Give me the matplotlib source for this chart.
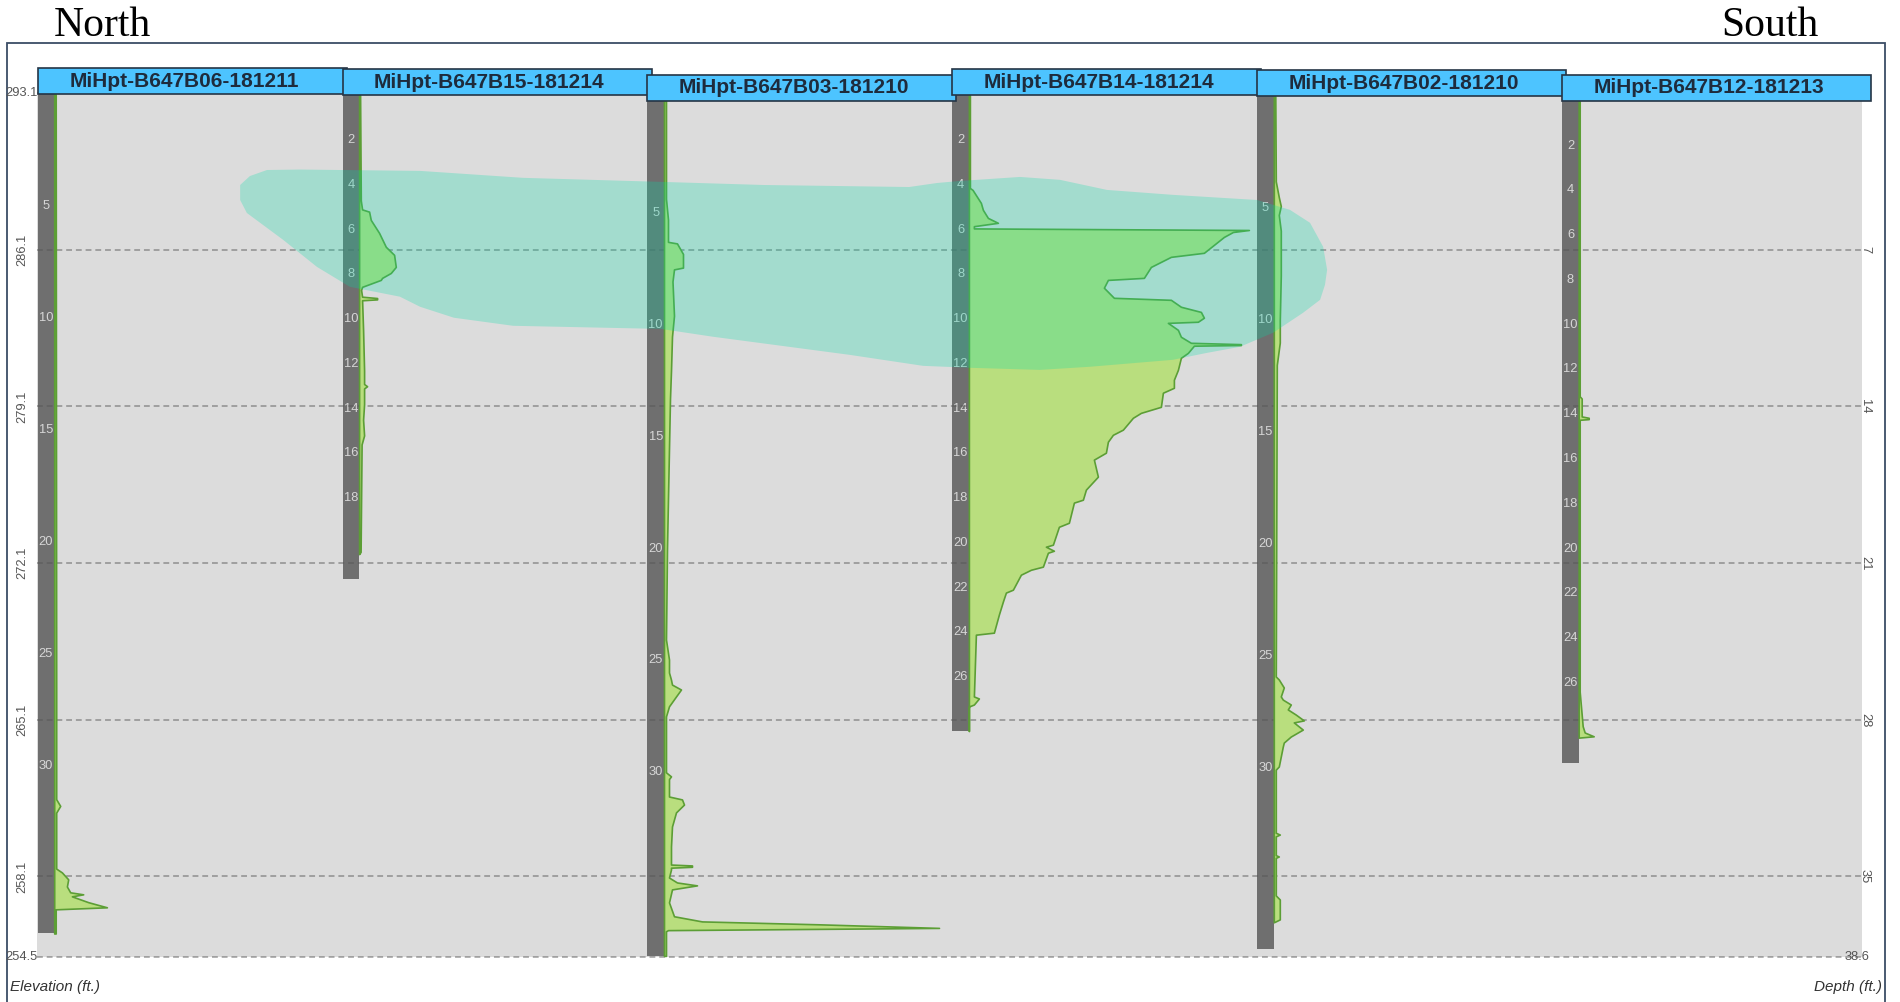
import matplotlib.pyplot as plt
from matplotlib import font_manager
from matplotlib.patches import Rectangle
import numpy as np

# fonts: narrow sans for the log labels if present, serif for the North/South caption
_names = {f.name for f in font_manager.fontManager.ttflist}
HAS_NARROW = 'Liberation Sans Narrow' in _names
NARROW = 'Liberation Sans Narrow' if HAS_NARROW else 'Liberation Sans'
SQUEEZE = 1.0 if HAS_NARROW else 0.88
HDR_FS = 17 if HAS_NARROW else 15
SERIF = 'Liberation Serif'

# borings, north to south
borings = ['MiHpt-B647B06-181211', 'MiHpt-B647B15-181214', 'MiHpt-B647B03-181210',
           'MiHpt-B647B14-181214', 'MiHpt-B647B02-181210', 'MiHpt-B647B12-181213']
top_elev = [293.05, 293.0, 292.75, 293.0, 292.95, 292.75]     # ground surface (ft)
total_depth = [37.5, 21.6, 38.2, 28.4, 38.1, 29.6]            # boring depth (ft)
depth_ticks = [
    [5, 10, 15, 20, 25, 30],
    [2, 4, 6, 8, 10, 12, 14, 16, 18],
    [5, 10, 15, 20, 25, 30],
    [2, 4, 6, 8, 10, 12, 14, 16, 18, 20, 22, 24, 26],
    [5, 10, 15, 20, 25, 30],
    [2, 4, 6, 8, 10, 12, 14, 16, 18, 20, 22, 24, 26],
]

# HPT logs: depth below ground (ft) and response (display units, 305 = one column)
b06_depth = [0, 26.5, 31.5, 31.8, 32.1, 34.6, 34.77, 35.08, 35.4, 35.66, 35.75, 35.84,
             36.1, 36.33, 36.42, 37.5]
b06_hpt = [1.5, 2, 2, 6, 2, 2, 7.7, 14, 12.7, 16, 29, 17.7, 34, 52.7, 1.5, 1.5]

b15_depth = [0, 4.7, 5.1, 5.2, 5.57, 6.15, 6.77, 7.13, 7.67, 7.94, 8.16, 8.25, 8.56, 8.7,
             9.0, 9.06, 9.12, 9.16, 10.5, 12.3, 12.9, 13.0, 13.1, 13.8, 14.5, 15.2, 15.6,
             18.0, 20.4, 20.5]
b15_hpt = [1, 1.7, 3, 10, 11.7, 20, 26.7, 35, 36.7, 31.7, 23, 21.7, 3, 2, 3, 18, 18, 3,
           4, 5, 5, 8, 5, 5, 4, 5, 2.5, 2, 1.5, 0]

b03_depth = [0, 4.38, 5.3, 6.3, 6.37, 6.84, 7.45, 7.53, 8.07, 9.6, 10.53, 12.06, 13.3,
             20.0, 24.07, 24.96, 25.54, 25.86, 26.08, 26.3, 26.61, 27.05, 27.5, 30.0,
             30.18, 30.3, 31.08, 31.21, 31.44, 31.79, 32.42, 33.31, 33.9, 34.12, 34.16,
             34.22, 34.26, 34.34, 34.7, 34.92, 35.05, 35.23, 35.81, 36.43, 36.66, 36.79,
             36.95, 37.05, 37.1, 38.2]
b03_hpt = [2, 2, 4, 4, 13, 19, 19, 10, 8.5, 10, 8, 7, 6, 3, 2, 5, 5, 7, 8, 17, 12, 5, 2,
           2, 7, 5, 5, 18, 20, 12, 8, 7, 7, 7, 28, 28, 7, 7, 5, 13, 33, 8, 5, 10, 38, 155,
           275, 4, 2, 2]

b14_depth = [0, 4.14, 4.23, 4.81, 5.12, 5.48, 5.7, 5.85, 5.95, 6.02, 6.11, 6.33, 7.04,
             7.22, 7.67, 8.16, 8.25, 8.6, 9.05, 9.14, 9.45, 9.68, 9.94, 10.12, 10.17,
             10.48, 10.79, 11.06, 11.12, 11.16, 11.19, 11.51, 11.73, 12.27, 12.71, 13.07,
             13.29, 13.92, 14.19, 14.41, 14.94, 15.17, 15.48, 15.97, 16.28, 17.04, 17.62,
             18.07, 18.2, 19.1, 19.28, 20.08, 20.17, 20.35, 20.44, 21.06, 21.2, 21.42,
             22.09, 22.22, 22.62, 23.2, 24.01, 24.1, 26.86, 26.95, 27.22, 27.31, 28.4]
b14_hpt = [1, 1, 3.7, 12, 14, 19, 29, 5, 5, 280, 264, 255, 235, 202, 182, 175, 139, 135,
           145, 202, 212, 232, 235, 229, 199, 209, 212, 222, 272, 272, 225, 219, 212, 209,
           205, 205, 194, 192, 172, 164, 154, 144, 139, 137, 125, 129, 117, 114, 105, 100,
           90, 84, 77, 85, 79, 74, 62, 52, 44, 37, 34, 30, 25, 7, 5, 10, 5, 0, 0]

b02_depth = [0, 3.8, 4.5, 4.9, 5.3, 6.0, 8.0, 10.0, 11.0, 12.0, 25.92, 26.05, 26.41,
             26.81, 26.95, 27.17, 27.39, 27.62, 27.88, 27.97, 28.29, 28.6, 28.87, 29.05,
             29.94, 30.08, 32.9, 32.98, 33.06, 33.9, 33.96, 34.02, 35.7, 35.88, 36.77, 36.9]
b02_hpt = [1.5, 2, 5, 7, 5, 7, 7, 6, 6, 3, 2, 5, 10, 7, 9, 17, 14, 22, 30, 20, 29, 17, 10,
           9, 5, 2, 2, 6, 2, 2, 5, 2, 2, 6, 6, 0]

b12_depth = [0, 13.2, 13.3, 14.1, 14.16, 14.22, 14.25, 26.4, 27.94, 28.22, 28.39, 28.45]
b12_hpt = [1, 1, 3, 3, 10, 10, 1, 1, 4, 6, 15, 0]

logs = [(b06_depth, b06_hpt), (b15_depth, b15_hpt), (b03_depth, b03_hpt),
        (b14_depth, b14_hpt), (b02_depth, b02_hpt), (b12_depth, b12_hpt)]

# section grid
elev_ticks = [293.1, 286.1, 279.1, 272.1, 265.1, 258.1, 254.5]
depth_labels = ['0', '7', '14', '21', '28', '35', '38.6']

# interpreted plume outline (section position in columns, elevation ft)
plume_x = [0.664, 0.664, 0.696, 0.752, 0.860, 1.254, 1.592, 2.044, 2.382, 2.858, 2.950,
           3.025, 3.222, 3.353, 3.507, 3.723, 3.999, 4.107, 4.173, 4.216, 4.229, 4.222,
           4.206, 4.150, 4.052, 3.943, 3.835, 3.723, 3.451, 3.287, 3.067, 2.904, 2.664,
           2.215, 2.044, 1.559, 1.365, 1.254, 1.188, 1.024, 0.916, 0.805, 0.686]
plume_elev = [288.32, 288.99, 289.39, 289.66, 289.68, 289.62, 289.31, 289.13, 288.99,
              288.90, 289.08, 289.17, 289.35, 289.22, 288.77, 288.55, 288.32, 287.88,
              287.30, 286.23, 285.20, 284.53, 283.86, 283.28, 282.39, 281.76, 281.49,
              281.18, 280.87, 280.73, 280.82, 280.91, 281.40, 282.21, 282.56, 282.70,
              283.06, 283.55, 284.00, 284.44, 285.33, 286.54, 287.74]

HPT_COL = 304.9          # response units per column width
BAR_W = 16.5 / 304.9     # depth bar width (columns)
HDR_W = 309 / 304.9
HDR_H = 1.16             # header height (ft)

W, H = 1900, 1002


def fx(px):
    return px / W


def fy(py):
    return 1 - py / H


fig = plt.figure(figsize=(W / 100, H / 100), dpi=100)
ax = fig.add_axes([fx(37), fy(957), fx(1862) - fx(37), fy(93) - fy(957)])
ax.set_facecolor('#dcdcdc')
ax.set_xlim(-0.0023, 5.9833)
ax.set_ylim(254.5, 293.1)
ax.set_xticks([])
ax.set_yticks([])
for s in ax.spines.values():
    s.set_visible(False)

for e in elev_ticks:
    ax.axhline(e, color='#555555', alpha=0.45, lw=1.4, ls=(0, (3, 2)), zorder=2, clip_on=False)

for i, name in enumerate(borings):
    top, td = top_elev[i], total_depth[i]
    ax.add_patch(Rectangle((i, top - td), BAR_W, td, fc='#6f6f6f', ec='none', zorder=1))
    for d in depth_ticks[i]:
        ax.text(i + BAR_W / 2, top - d, str(d), ha='center', va='center', color='#d6d6d6',
                family=NARROW, fontsize=10.5 * SQUEEZE, zorder=1.5)
    dep, val = logs[i]
    elev = top - np.array(dep)
    xr = i + BAR_W
    ax.fill_betweenx(elev, xr, xr + np.array(val) / HPT_COL, facecolor='#b9de7e',
                     edgecolor='#5c9e35', lw=1.2, zorder=3)
    ax.add_patch(Rectangle((i, top), HDR_W, HDR_H, fc='#4dc4ff', ec='#253545', lw=1.2,
                           clip_on=False, zorder=4 + i * 0.01))
    ax.text(i + HDR_W * 0.475, top + HDR_H / 2, name, ha='center', va='center',
            family=NARROW, fontweight='bold', fontsize=HDR_FS, color='#1e2b3c',
            clip_on=False, zorder=4.5)

ax.fill(plume_x, plume_elev, color='#00dca9', alpha=0.26, lw=0, zorder=6)

# elevation (left) and depth (right) labels
for e, dl in zip(elev_ticks, depth_labels):
    ypx = 93 + (293.1 - e) * (864 / 38.6)
    if e in (293.1, 254.5):
        fig.text(fx(38), fy(ypx), f'{e:.1f}', ha='right', va='center', family=NARROW,
                 fontsize=10.5 * SQUEEZE, color='#555555')
    else:
        fig.text(fx(22), fy(ypx), f'{e:.1f}', ha='center', va='center', rotation=90,
                 family=NARROW, fontsize=10.5 * SQUEEZE, color='#555555')
    if dl == '38.6':
        fig.text(fx(1869), fy(ypx), dl, ha='right', va='center', family=NARROW,
                 fontsize=10.5 * SQUEEZE, color='#555555')
    elif dl != '0':
        fig.text(fx(1865), fy(ypx), dl, ha='center', va='center', rotation=-90,
                 family=NARROW, fontsize=10.5 * SQUEEZE, color='#555555')

fig.text(fx(10), fy(987), 'Elevation (ft.)', ha='left', va='center', style='italic',
         family=NARROW, fontsize=13 * SQUEEZE ** 1.3, color='#333333')
fig.text(fx(1882), fy(987), 'Depth (ft.)', ha='right', va='center', style='italic',
         family=NARROW, fontsize=13 * SQUEEZE ** 1.3, color='#333333')

fig.text(fx(54), fy(26), 'North', ha='left', va='center', family=SERIF, fontsize=30)
fig.text(fx(1818), fy(26), 'South', ha='right', va='center', family=SERIF, fontsize=30)

fig.add_artist(Rectangle((fx(7), -0.01), fx(1885) - fx(7), fy(43) + 0.01,
                         transform=fig.transFigure, fill=False, ec='#3c4d66', lw=1.3))

fig.savefig('out.png', dpi=100)
